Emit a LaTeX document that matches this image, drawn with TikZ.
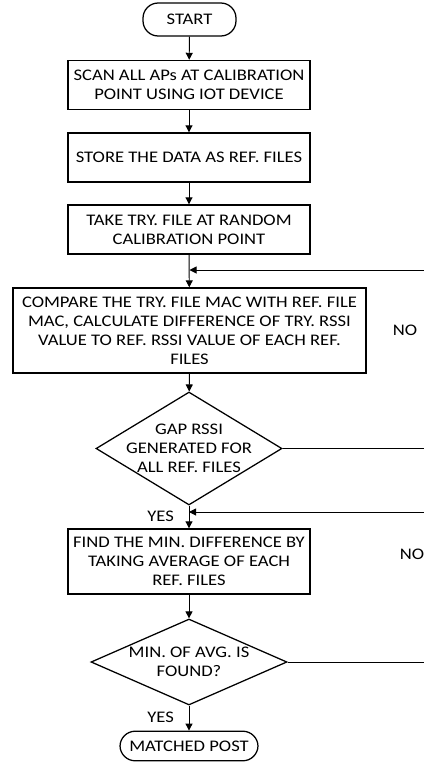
\documentclass[tikz,border=0pt]{standalone}
\usepackage{fontspec}
\setmainfont{Carlito}[FakeStretch=1.15]
\usepackage{tikz}
\usetikzlibrary{arrows.meta, shapes.geometric, positioning}

\begin{document}
\begin{tikzpicture}[>={Triangle[length=5pt, width=5pt]}, line width=0.7pt,
  font=\fontsize{11.5}{13.6}\selectfont,
  terminal/.style={draw, rectangle, rounded corners=0.38cm, line width=0.9pt, inner sep=0pt},
  process/.style={draw, rectangle, line width=1pt, align=center, inner sep=0pt, minimum width=6.05cm},
  decision/.style={draw, diamond, line width=0.9pt, inner sep=0pt}]

  \useasboundingbox (0, 0) rectangle (10.6, -19.05);

  % Nodes
  \node[terminal, minimum width=2.325cm, minimum height=0.825cm] (start) at (4.7375, -0.4875) {START};
  \node[process, minimum height=1.225cm] (scan) at (4.725, -2.125)
    {SCAN ALL APs AT CALIBRATION\\POINT USING IOT DEVICE};
  \node[process, minimum height=1.225cm] (store) at (4.725, -3.9375)
    {STORE THE DATA AS REF. FILES};
  \node[process, minimum height=1.225cm] (try) at (4.725, -5.7375)
    {TAKE TRY. FILE AT RANDOM\\CALIBRATION POINT};
  \node[process, minimum width=8.825cm, minimum height=2.125cm] (cmp) at (4.7375, -8.2625)
    {COMPARE THE TRY. FILE MAC WITH REF. FILE\\MAC, CALCULATE DIFFERENCE OF TRY. RSSI\\VALUE TO REF. RSSI VALUE OF EACH REF.\\FILES};
  \node[decision, minimum width=4.65cm, minimum height=2.825cm] (gap) at (4.725, -11.2125) {};
  \node[align=center] (gaptext) at (gap.center) {GAP RSSI\\GENERATED FOR\\ALL REF. FILES};
  \node[process, minimum height=1.625cm] (find) at (4.725, -14.0375)
    {FIND THE MIN. DIFFERENCE BY\\TAKING AVERAGE OF EACH\\REF. FILES};
  \node[decision, minimum width=4.9cm, minimum height=2.15cm] (found) at (4.725, -16.55) {};
  \node[align=center] (foundtext) at (found.center) {MIN. OF AVG. IS\\FOUND?};
  \node[terminal, minimum width=3.45cm, minimum height=0.74cm] (match) at (4.725, -18.65) {MATCHED POST};

  % Merge points
  \coordinate (m1) at (4.7375, -6.75);
  \coordinate (m2) at (4.725, -12.8);

  % Main flow
  \draw[->] (start) -- (scan);
  \draw[->] (scan) -- (store);
  \draw[->] (store) -- (try);
  \draw[->] (try) -- (cmp);
  \draw[->] (cmp) -- (gap);
  \draw[->] (gap) -- node[left=0.25cm, pos=0.45] (yes1) {YES} (find);
  \draw[->] (find) -- (found);
  \draw[->] (found) -- node[left=0.25cm, pos=0.45] (yes2) {YES} (match);

  % Loops back
  \draw[->] (gap.east) -- ++(4, 0) |- (m1);
  \draw[->] (found.east) -- ++(4, 0) |- (m2);

  % Loop labels
  \node (no1) at (10.125, -8.25) {NO};
  \node (no2) at (10.3, -13.85) {NO};

\end{tikzpicture}
\end{document}
